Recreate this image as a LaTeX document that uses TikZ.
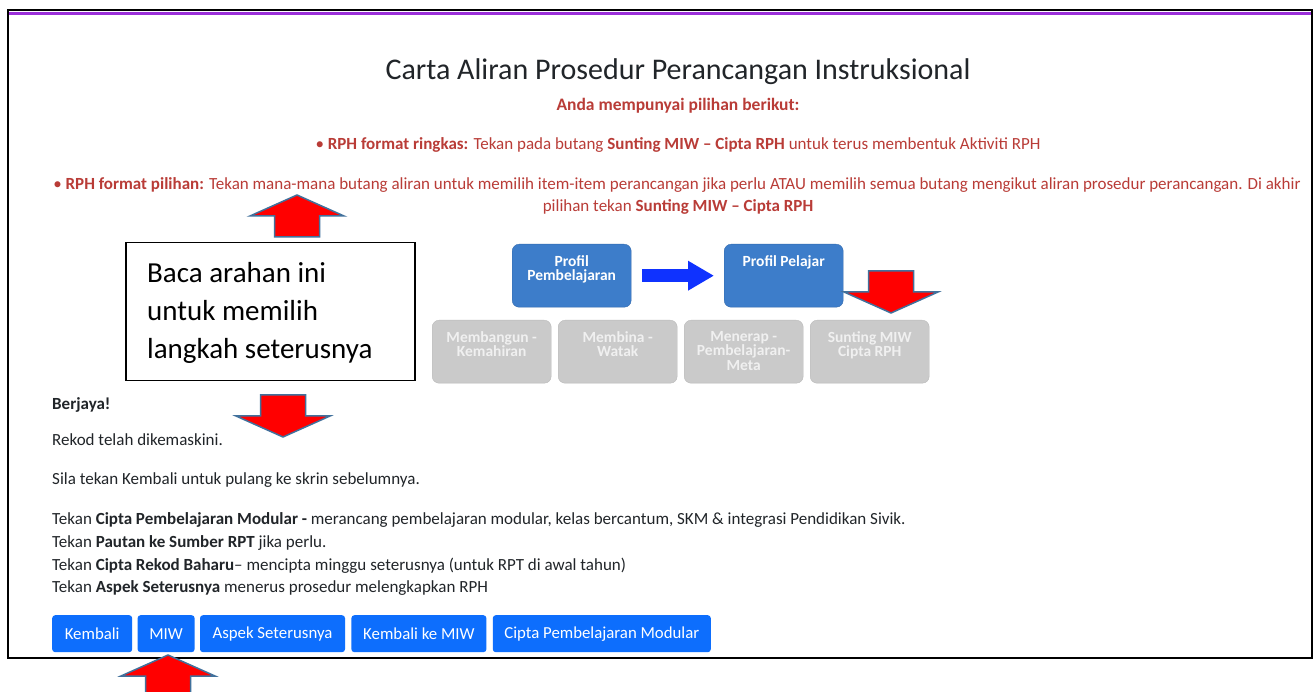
\documentclass[tikz,border=0pt]{standalone}
\usepackage{fontspec}
\setmainfont{Carlito}
\usetikzlibrary{positioning,arrows.meta}
\definecolor{pagetext}{RGB}{33,37,41}
\definecolor{notered}{RGB}{185,60,55}
\definecolor{btnblue}{RGB}{13,110,253}
\definecolor{stepblue}{RGB}{61,125,202}
\definecolor{stepgrey}{RGB}{202,202,202}
\definecolor{greytext}{RGB}{240,240,240}
\definecolor{flowblue}{RGB}{15,50,255}
\definecolor{arrowedge}{RGB}{65,113,156}
\definecolor{topbar}{RGB}{155,48,217}
\tikzset{
  button/.style={fill=btnblue, rounded corners=3pt, text=white, minimum height=37pt,
    inner xsep=0pt, font=\fontsize{16.8}{18}\selectfont},
  stepbox/.style={fill=stepblue, draw=stepblue!85!black, rounded corners=7pt,
    minimum width=119pt, minimum height=63pt, anchor=north west},
  greybox/.style={stepbox, fill=stepgrey, draw=gray!55},
  steptext/.style={anchor=north, font=\bfseries\fontsize{15.5}{14.5}\selectfont,
    align=center, text=white, inner sep=0pt, yshift=-11pt},
  redarrow/.style={fill=red, draw=arrowedge, line width=1.5pt, line join=miter},
  body/.style={anchor=west, text=pagetext, inner sep=0pt, font=\fontsize{17}{19}\selectfont},
  note/.style={text=notered, inner sep=0pt, font=\fontsize{17}{19}\selectfont}
}
\begin{document}
\begin{tikzpicture}[x=1pt,y=-1pt]
  \useasboundingbox[fill=white] (0,0) rectangle (1315,692);
  % screenshot frame
  \draw[line width=2pt] (8,10) rectangle (1312,658);
  \draw[topbar,line width=3.5pt] (9,13.5) -- (1311,13.5);
  % heading and notes
  \node[text=pagetext,font=\fontsize{30}{34}\selectfont] (title) at (678,72)
    {Carta Aliran Prosedur Perancangan Instruksional};
  \node[note,font=\bfseries\fontsize{17.5}{19}\selectfont] (anda) at (678,106)
    {Anda mempunyai pilihan berikut:};
  \node[note] (ringkas) at (678,145) {• \textbf{RPH format ringkas:} Tekan pada butang
    \textbf{Sunting MIW – Cipta RPH} untuk terus membentuk Aktiviti RPH};
  \node[note] (pilihan) at (677,185) {• \textbf{RPH format pilihan:} Tekan mana-mana butang
    aliran untuk memilih item-item perancangan jika perlu ATAU memilih semua butang
    mengikut aliran prosedur perancangan. Di akhir};
  \node[note] (pilihanb) at (678,207) {pilihan tekan \textbf{Sunting MIW – Cipta RPH}};
  % callout
  \node[draw,line width=1.5pt,anchor=north west,minimum width=289pt,minimum height=138pt,
    inner sep=0pt] (arahan) at (125,242) {};
  \node[anchor=north west,align=left,inner sep=0pt,font=\fontsize{29}{38}\selectfont]
    (arahantxt) at (147,262) {Baca arahan ini\\untuk memilih\\langkah seterusnya};
  % flow buttons
  \node[stepbox] (pemb) at (512,244) {};
  \node[steptext] (pembtxt) at (pemb.north) {Profil\\Pembelajaran};
  \node[stepbox] (pel) at (724,244) {};
  \node[steptext] (peltxt) at (pel.north) {Profil Pelajar};
  \draw[flowblue,line width=13pt,-{Triangle[width=28pt,length=26pt]}]
    ([xshift=11pt]pemb.east) -- ([xshift=-10pt]pel.west);
  \foreach \name/\txt [count=\i from 0] in {bangun/{Membangun -\\Kemahiran},
      bina/{Membina -\\Watak}, terap/{Menerap -\\Pembelajaran-\\Meta},
      sunting/{Sunting MIW\\Cipta RPH}} {
    \node[greybox] (\name) at (432+126*\i,320) {};
    \node[steptext,text=greytext] (\name txt) at (\name.north) {\txt};
  }
  % messages
  \node[body,font=\bfseries\fontsize{17}{19}\selectfont] (berjaya) at (52,405) {Berjaya!};
  \node[body] (rekod) at (52,440) {Rekod telah dikemaskini.};
  \node[body] (sila) at (52,480) {Sila tekan Kembali untuk pulang ke skrin sebelumnya.};
  \node[body] (tekana) at (52,520) {Tekan \textbf{Cipta Pembelajaran Modular -} merancang
    pembelajaran modular, kelas bercantum, SKM \& integrasi Pendidikan Sivik.};
  \node[body] (tekanb) at (52,543) {Tekan \textbf{Pautan ke Sumber RPT} jika perlu.};
  \node[body] (tekanc) at (52,566) {Tekan \textbf{Cipta Rekod Baharu}– mencipta minggu
    seterusnya (untuk RPT di awal tahun)};
  \node[body] (tekand) at (52,588) {Tekan \textbf{Aspek Seterusnya} menerus prosedur
    melengkapkan RPH};
  % bottom buttons
  \node[button,anchor=north west,minimum width=80pt] (kembali) at (52,615) {Kembali};
  \node[button,minimum width=57pt,right=5pt of kembali] (miw) {MIW};
  \node[button,minimum width=145pt,right=5pt of miw] (aspek) {Aspek Seterusnya};
  \node[button,minimum width=135pt,right=6pt of aspek] (kmiw) {Kembali ke MIW};
  \node[button,minimum width=218pt,right=6pt of kmiw] (cipta) {Cipta Pembelajaran Modular};
  % red pointers
  \foreach \tx/\ty/\rot in {297/195/0, 283/437/180, 891/313/180, 168/655/0} {
    \begin{scope}[shift={(\tx,\ty)},rotate=\rot]
      \draw[redarrow] (0,0) -- (47,21) -- (22.5,21) -- (22.5,42) -- (-22.5,42)
        -- (-22.5,21) -- (-47,21) -- cycle;
    \end{scope}
  }
\end{tikzpicture}
\end{document}
